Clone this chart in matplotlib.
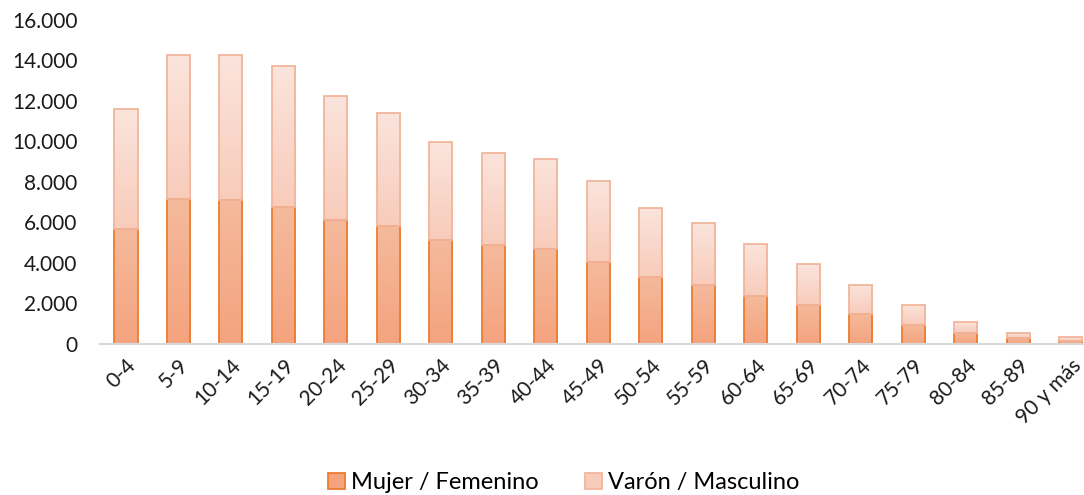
import numpy as np
import matplotlib
matplotlib.use("Agg")
import matplotlib.pyplot as plt
import matplotlib.colors as mcolors
from matplotlib.patches import Patch
from matplotlib.ticker import FuncFormatter

plt.rcParams["font.family"] = ["Lato", "DejaVu Sans"]

GROUPS = ["0-4", "5-9", "10-14", "15-19", "20-24", "25-29", "30-34", "35-39",
          "40-44", "45-49", "50-54", "55-59", "60-64", "65-69", "70-74",
          "75-79", "80-84", "85-89", "90 y más"]
MUJER = [5700, 7150, 7100, 6750, 6100, 5820, 5120, 4880, 4680, 4030,
         3330, 2890, 2390, 1940, 1490, 950, 550, 300, 150]
TOTAL = [11600, 14250, 14270, 13700, 12250, 11420, 9950, 9450, 9150, 8050,
         6700, 5970, 4930, 3930, 2930, 1940, 1100, 550, 330]
VARON = [t - m for t, m in zip(TOTAL, MUJER)]

F_EDGE, F_TOP, F_BOT = "#ED7D31", "#F5BA9C", "#F4A37E"
M_EDGE, M_TOP, M_BOT = "#F2B59B", "#FBE4DC", "#F8CCBB"


def gradient_fill(ax, bars, top, bot):
    # vertical gradient inside each bar, like the Excel original
    cmap = mcolors.LinearSegmentedColormap.from_list("g", [bot, top])
    grad = np.linspace(0, 1, 64).reshape(-1, 1)
    for b in bars:
        x, y = b.get_x(), b.get_y()
        w, h = b.get_width(), b.get_height()
        im = ax.imshow(grad, cmap=cmap, aspect="auto", origin="lower",
                       extent=(x, x + w, y, y + h), zorder=1.5,
                       interpolation="bicubic")
        im.set_clip_path(b)


fig = plt.figure(figsize=(10.84, 4.95), dpi=100)
ax = fig.add_axes([0.092, 0.305, 0.92, 0.655])

x = np.arange(len(GROUPS))
w = 0.44
b1 = ax.bar(x, MUJER, w, color=F_BOT, edgecolor=F_EDGE, linewidth=1.3, zorder=2)
b2 = ax.bar(x, VARON, w, bottom=MUJER, color=M_BOT, edgecolor=M_EDGE,
            linewidth=1.3, zorder=2)
for b in list(b1) + list(b2):
    b.set_facecolor("none")
gradient_fill(ax, b1, F_TOP, F_BOT)
gradient_fill(ax, b2, M_TOP, M_BOT)

ax.set_xlim(-0.5, len(GROUPS) - 0.5)
ax.set_ylim(0, 16000)
ax.set_yticks(range(0, 16001, 2000))
ax.yaxis.set_major_formatter(FuncFormatter(lambda v, p: f"{int(v):,}".replace(",", ".")))
ax.set_xticks(x)
ax.set_xticklabels(GROUPS, rotation=45, ha="right", rotation_mode="anchor")
ax.tick_params(axis="both", length=0, labelsize=15, colors="#1a1a1a")
ax.tick_params(axis="x", pad=8)
ax.tick_params(axis="y", pad=16)
for s in ["top", "right", "left"]:
    ax.spines[s].set_visible(False)
ax.spines["bottom"].set_color("#D9D9D9")
ax.spines["bottom"].set_linewidth(1.5)

handles = [Patch(facecolor=F_BOT, edgecolor=F_EDGE, linewidth=1.3),
           Patch(facecolor=M_BOT, edgecolor=M_EDGE, linewidth=1.3)]
fig.legend(handles, ["Mujer / Femenino", "Varón / Masculino"], loc="center",
           bbox_to_anchor=(0.52, 0.025), ncol=2, frameon=False, fontsize=17,
           handlelength=0.7, handleheight=0.7, handletextpad=0.25,
           columnspacing=2.0)

fig.savefig("out.png", dpi=100)
